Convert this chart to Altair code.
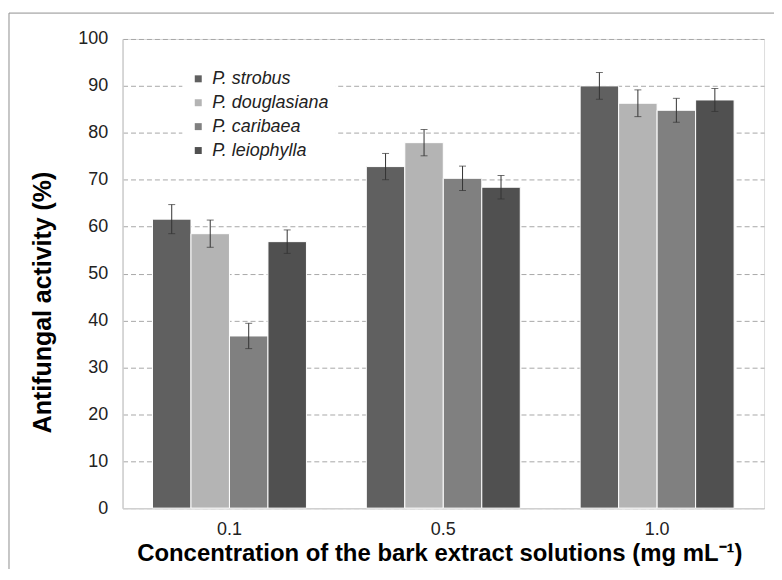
import altair as alt
import pandas as pd

concentrations = ["0.1", "0.5", "1.0"]
species = ["P. strobus", "P. douglasiana", "P. caribaea", "P. leiophylla"]
colors = ["#606060", "#b4b4b4", "#808080", "#505050"]

strobus = [61.6, 72.8, 90.0]
strobus_err = [3.1, 2.8, 2.85]
douglasiana = [58.5, 77.9, 86.3]
douglasiana_err = [2.9, 2.8, 2.85]
caribaea = [36.7, 70.3, 84.8]
caribaea_err = [2.7, 2.6, 2.55]
leiophylla = [56.8, 68.4, 87.0]
leiophylla_err = [2.5, 2.5, 2.45]

values = [strobus, douglasiana, caribaea, leiophylla]
errors = [strobus_err, douglasiana_err, caribaea_err, leiophylla_err]

rows = []
for s, vals, errs in zip(species, values, errors):
    for c, v, e in zip(concentrations, vals, errs):
        rows.append({"conc": c, "species": s, "value": v, "lo": v - e, "hi": v + e})
df = pd.DataFrame(rows)

FONT = "Liberation Sans"

x_enc = alt.X(
    "conc:N",
    sort=concentrations,
    scale=alt.Scale(paddingInner=0.28, paddingOuter=0.14),
    axis=alt.Axis(
        title="Concentration of the bark extract solutions (mg mL⁻¹)",
        labelAngle=0,
        labelFontSize=18,
        labelColor="#222222",
        labelPadding=12,
        ticks=False,
        domainColor="#d0d0d0",
        domainWidth=1.5,
        titleFontSize=24,
        titleFontWeight="bold",
        titleColor="#000000",
        titleY=46,
        titleX=318,
        titleBaseline="middle",
    ),
)
xoff = alt.XOffset("species:N", sort=species)

bars = alt.Chart(df).mark_bar(stroke="white", strokeWidth=1).encode(
    x=x_enc,
    xOffset=xoff,
    y=alt.Y(
        "value:Q",
        scale=alt.Scale(domain=[0, 100]),
        axis=alt.Axis(
            title="Antifungal activity (%)",
            values=list(range(0, 101, 10)),
            labelFontSize=18,
            labelColor="#222222",
            labelPadding=15,
            ticks=False,
            domainColor="#d0d0d0",
            domainWidth=1.5,
            grid=True,
            gridColor="#a8a8a8",
            gridDash=[5, 3],
            gridWidth=1,
            titleFontSize=25,
            titleFontWeight="bold",
            titleColor="#000000",
            titleX=-80,
            titleY=264,
            titleBaseline="middle",
            titleAlign="center",
        ),
    ),
    color=alt.Color(
        "species:N",
        sort=species,
        scale=alt.Scale(domain=species, range=colors),
        legend=alt.Legend(
            title=None,
            orient="none",
            legendX=60,
            legendY=24,
            symbolType="square",
            symbolSize=49,
            symbolStrokeWidth=0,
            labelFontSize=18,
            labelFontStyle="italic",
            labelColor="#222222",
            labelOffset=5,
            rowPadding=6,
            padding=7,
            fillColor="white",
        ),
    ),
)

rules = alt.Chart(df).mark_rule(color="#333333", strokeWidth=1).encode(
    x=x_enc, xOffset=xoff, y="lo:Q", y2="hi:Q"
)
cap_lo = alt.Chart(df).mark_tick(color="#333333", thickness=1, size=7, orient="horizontal").encode(
    x=x_enc, xOffset=xoff, y="lo:Q"
)
cap_hi = alt.Chart(df).mark_tick(color="#333333", thickness=1, size=7, orient="horizontal").encode(
    x=x_enc, xOffset=xoff, y="hi:Q"
)

frame = alt.Chart(pd.DataFrame({"a": [0]})).mark_rect(
    fill=None, stroke="#909090", strokeWidth=1, clip=False
).encode(
    x=alt.value(-114), x2=alt.value(680), y=alt.value(-26), y2=alt.value(560)
)

chart = alt.layer(frame, bars, rules, cap_lo, cap_hi).properties(
    width=644,
    height=471,
    autosize=alt.AutoSizeParams(type="none"),
    padding={"left": 115, "top": 30, "right": 10, "bottom": 60},
).configure_view(
    stroke="#909090", strokeWidth=1
).configure(
    font=FONT
)

chart.save("out.html", embed_options={"renderer": "svg", "actions": False})
